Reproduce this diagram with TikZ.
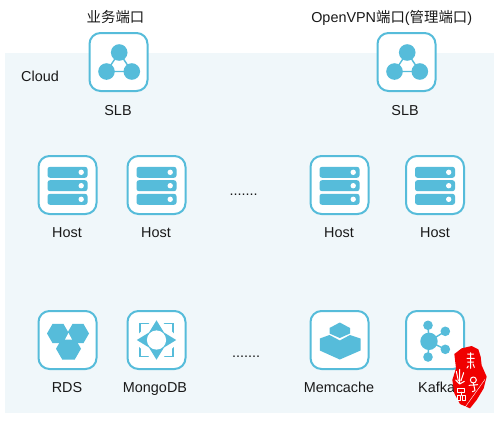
\documentclass[tikz,border=0pt]{standalone}
\usepackage{fontspec}
\setmainfont{Liberation Sans}
\newfontfamily\cjk{Noto Sans CJK SC}
\definecolor{iconblue}{HTML}{56BCDA}
\definecolor{panelbg}{HTML}{F0F7FA}
\definecolor{sealred}{HTML}{F00000}
\tikzset{
  iconbox/.style={draw=iconblue,line width=2pt,fill=white,rounded corners=11pt,minimum width=58pt,minimum height=58pt,inner sep=0pt},
  lbl/.style={font=\fontsize{14.4}{16}\selectfont,text=black!90,inner sep=0pt,anchor=base},
  glyph/.style={fill=iconblue,draw=none},
  link/.style={draw=iconblue,line width=1.4pt},
  sealmark/.style={draw=white,line width=1pt,line cap=round,line join=round}
}
\newcommand{\slbglyph}[1]{\begin{scope}[shift={(#1)}]
  \draw[link] (0.7,-9.5)--(-12,9.5)--(13.3,9.5)--cycle;
  \fill[glyph] (0.7,-9.5) circle[radius=8.3];
  \fill[glyph] (-12,9.5) circle[radius=8.3];
  \fill[glyph] (13.3,9.5) circle[radius=8.3];
\end{scope}}
\newcommand{\hostglyph}[1]{\begin{scope}[shift={(#1)}]
  \foreach \yy in {-12.7,0.7,14.3}{
    \fill[glyph,rounded corners=2.5pt] (-20,\yy-5.5) rectangle (20,\yy+5.5);
    \fill[white] (13.7,\yy) circle[radius=2.7];
  }
\end{scope}}
\newcommand{\hexa}[3]{\fill[glyph] (#1+#3,#2)--(#1+#3*0.5,#2+#3*0.866)--(#1-#3*0.5,#2+#3*0.866)--(#1-#3,#2)--(#1-#3*0.5,#2-#3*0.866)--(#1+#3*0.5,#2-#3*0.866)--cycle;}
\newcommand{\rdsglyph}[1]{\begin{scope}[shift={(#1)}]
  \hexa{-9.5}{-6.5}{11}
  \hexa{10.5}{-6.5}{11}
  \hexa{1}{8.7}{12.5}
  \fill[white] (1,-7)--(4.5,-0.5)--(-2.5,-0.5)--cycle;
\end{scope}}
\newcommand{\mongoglyph}[1]{\begin{scope}[shift={(#1)}]
  \draw[link,line width=1.7pt] (-16.5,-16.5) rectangle (16.5,16.5);
  \fill[white] (0,-24)--(24,0)--(0,24)--(-24,0)--cycle;
  \fill[glyph] (0,-19.7)--(7.5,-7.5)--(19.7,0)--(7.5,7.5)--(0,19.7)--(-7.5,7.5)--(-19.7,0)--(-7.5,-7.5)--cycle;
  \fill[white] (0,0) circle[radius=9.6];
\end{scope}}
\newcommand{\memglyph}[1]{\begin{scope}[shift={(#1)}]
  \fill[glyph] (-19.7,-1.5)--(-10,-5)--(0.3,0.5)--(10.5,-5)--(21,-1.5)--(21,10.5)--(0.3,19.5)--(-19.7,10.5)--cycle;
  \fill[glyph] (0.3,-17.5)--(10.5,-12)--(10.5,-6.5)--(0.3,-2)--(-10,-6.5)--(-10,-12)--cycle;
\end{scope}}
\newcommand{\kafkaglyph}[1]{\begin{scope}[shift={(#1)}]
  \draw[link] (-6,1.3)--(-7,-14.7) (-6,1.3)--(10.3,-8.7) (-6,1.3)--(10.3,9.3) (-6,1.3)--(-7,17);
  \fill[glyph] (-6,1.3) circle[radius=8.7];
  \fill[glyph] (-7,-14.7) circle[radius=4.8];
  \fill[glyph] (10.3,-8.7) circle[radius=4.8];
  \fill[glyph] (10.3,9.3) circle[radius=4.8];
  \fill[glyph] (-7,17) circle[radius=4.8];
\end{scope}}
\begin{document}
\begin{tikzpicture}[x=1pt,y=-1pt]
\useasboundingbox (0,0) rectangle (500,421);
\fill[white] (0,0) rectangle (500,421);
\fill[panelbg] (5,53) rectangle (494,413);
\node[lbl,anchor=base west] (cloud) at (21,81.7) {Cloud};
\node[lbl] (title1) at (115.5,22) {\cjk 业务端口};
\node[lbl] (title2) at (391.7,22.500) {OpenVPN{\cjk 端口}({\cjk 管理端口})};
% icon boxes
\node[iconbox] (slb1) at (118.5,62) {};
\node[iconbox] (slb2) at (406.5,62) {};
\node[iconbox] (host1) at (67.5,185) {};
\node[iconbox] (host2) at (156.5,185) {};
\node[iconbox] (host3) at (339.5,185) {};
\node[iconbox] (host4) at (435,185) {};
\node[iconbox] (rds) at (67.5,340) {};
\node[iconbox] (mongo) at (156.5,340) {};
\node[iconbox] (mem) at (339.5,340) {};
\node[iconbox] (kafka) at (435,340) {};
% glyphs
\slbglyph{slb1}\slbglyph{slb2}
\hostglyph{host1}\hostglyph{host2}\hostglyph{host3}\hostglyph{host4}
\rdsglyph{rds}\mongoglyph{mongo}\memglyph{mem}\kafkaglyph{kafka}
% labels
\node[lbl] (l1) at (118,115) {SLB};
\node[lbl] (l2) at (405,115) {SLB};
\node[lbl] (l3) at (67,237.300) {Host};
\node[lbl] (l4) at (156,237.300) {Host};
\node[lbl] (l5) at (339,237.300) {Host};
\node[lbl] (l6) at (435,237.300) {Host};
\node[lbl] (l7) at (67,392.300) {RDS};
\node[lbl] (l8) at (155,392.300) {MongoDB};
\node[lbl] (l9) at (339,392.300) {Memcache};
\node[lbl,anchor=base west] (l10) at (418,392.300) {Kafka};
\node[lbl] (d1) at (243.5,195) {.......};
\node[lbl] (d2) at (246,357.300) {.......};
% seal
\begin{scope}[shift={(445,340)},x=0.3333pt,y=-0.3333pt]
  \fill[sealred] (28,42)--(50,25)--(80,18)--(100,28)--(107,50)--(110,76)--(125,110)--(116,145)--(95,180)--(75,205)--(45,192)--(28,160)--(22,120)--(33,85)--cycle;
  \draw[sealmark] (68,42)--(86,42) (77,38)--(77,85) (66,55)--(88,55) (68,66)--(86,66) (70,78)--(66,84) (84,72)--(88,82);
  \draw[sealmark] (34,94)--(40,122) (44,88)--(44,128) (56,98)--(48,122) (32,120)--(44,132)--(58,124);
  \draw[sealmark] (85,120) circle[radius=9];
  \draw[sealmark] (85,129)--(90,152)--(82,155) (72,136)--(98,134);
  \draw[sealmark] (38,144) rectangle (58,156) (36,166) rectangle (47,182) (51,166) rectangle (62,182) (48,156)--(48,166);
  \draw[white,line width=0.4pt] (58,205)--(120,118);
\end{scope}
\end{tikzpicture}
\end{document}
